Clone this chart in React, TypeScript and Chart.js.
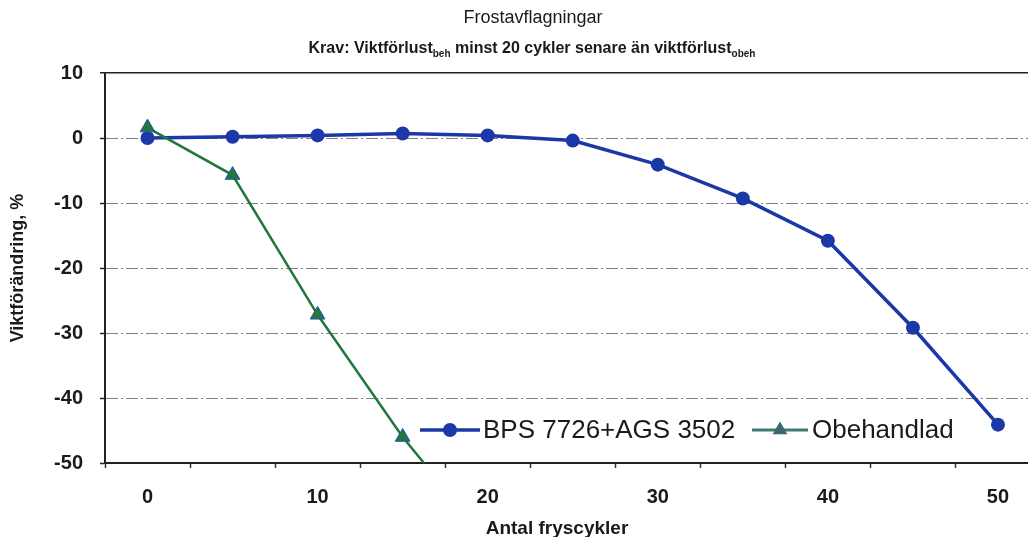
import { useEffect, useRef } from 'react';
import { Chart, registerables } from 'chart.js';

Chart.register(...registerables);

// ---- data ----
const cycles = ['0', '5', '10', '15', '20', '25', '30', '35', '40', '45', '50'];
const bpsValues = [0, 0.2, 0.4, 0.7, 0.4, -0.4, -4.1, -9.3, -15.8, -29.2, -44.1];
const obehandladValues = [1.6, -5.7, -27.2, -46.0, -62.0];
const yTicks = [-50, -40, -30, -20, -10, 0, 10];
const seriesNames = ['BPS 7726+AGS 3502', 'Obehandlad'];
const titleText = 'Frostavflagningar';
const subtitleParts: [string, boolean][] = [
  ['Krav: Viktförlust', false],
  ['beh', true],
  [' minst 20 cykler senare än viktförlust', false],
  ['obeh', true],
];
const xTitle = 'Antal fryscykler';
const yTitle = 'Viktförändring, %';

// ---- style ----
const FONT = '"Liberation Sans", Arial, Helvetica, sans-serif';
const TEXT = '#1a1a1a';
const BLUE = '#1c38a8';
const GREEN = '#22783c';
const LEGEND_GREEN_LINE = '#3f7a72';
const LEGEND_GREEN_MARK = '#3a6670';
const W = 1050;
const H = 537;

const titlePlugin = {
  id: 'titles',
  afterDraw(chart: any) {
    const { ctx, chartArea: a } = chart;
    ctx.save();
    ctx.fillStyle = TEXT;
    ctx.textBaseline = 'alphabetic';
    ctx.textAlign = 'center';
    ctx.font = `18px ${FONT}`;
    const cx = a.left + 428;
    ctx.fillText(titleText, cx, 23);

    const mainFont = `bold 16px ${FONT}`;
    const subFont = `bold 10px ${FONT}`;
    let total = 0;
    for (const [t, sub] of subtitleParts) {
      ctx.font = sub ? subFont : mainFont;
      total += ctx.measureText(t).width;
    }
    let x = a.left + 427 - total / 2;
    ctx.textAlign = 'left';
    for (const [t, sub] of subtitleParts) {
      ctx.font = sub ? subFont : mainFont;
      ctx.fillText(t, x, sub ? 57 : 53);
      x += ctx.measureText(t).width;
    }

    // x axis title
    ctx.textAlign = 'center';
    ctx.textBaseline = 'middle';
    ctx.font = `bold 19px ${FONT}`;
    ctx.fillText(xTitle, a.left + 452, a.bottom + 66);
    ctx.restore();
  },
};

const legendPlugin = {
  id: 'insideLegend',
  afterDatasetsDraw(chart: any) {
    const { ctx, chartArea: a } = chart;
    const y = a.bottom - 33;
    ctx.save();
    ctx.lineCap = 'butt';
    // item 1
    ctx.strokeStyle = BLUE;
    ctx.lineWidth = 3.5;
    ctx.beginPath();
    ctx.moveTo(a.left + 315, y);
    ctx.lineTo(a.left + 375, y);
    ctx.stroke();
    ctx.fillStyle = BLUE;
    ctx.beginPath();
    ctx.arc(a.left + 345, y, 7, 0, Math.PI * 2);
    ctx.fill();
    ctx.fillStyle = TEXT;
    ctx.font = `26px ${FONT}`;
    ctx.textBaseline = 'middle';
    ctx.textAlign = 'left';
    ctx.fillText(seriesNames[0], a.left + 378, y + 1);
    // item 2
    ctx.strokeStyle = LEGEND_GREEN_LINE;
    ctx.lineWidth = 3;
    ctx.beginPath();
    ctx.moveTo(a.left + 647, y);
    ctx.lineTo(a.left + 703, y);
    ctx.stroke();
    const tx = a.left + 675;
    const r = 8.5;
    ctx.fillStyle = LEGEND_GREEN_MARK;
    ctx.beginPath();
    ctx.moveTo(tx, y - r);
    ctx.lineTo(tx + r * 0.866, y + r / 2);
    ctx.lineTo(tx - r * 0.866, y + r / 2);
    ctx.closePath();
    ctx.fill();
    ctx.fillStyle = TEXT;
    ctx.fillText(seriesNames[1], a.left + 707, y + 1);
    ctx.restore();
  },
};

export default function App() {
  const ref = useRef<HTMLCanvasElement>(null);

  useEffect(() => {
    const canvas = ref.current;
    if (!canvas) return;
    const chart = new Chart(canvas, {
      type: 'line',
      data: {
        labels: cycles,
        datasets: [
          {
            label: seriesNames[0],
            data: bpsValues,
            borderColor: BLUE,
            backgroundColor: BLUE,
            borderWidth: 3.5,
            pointStyle: 'circle',
            pointRadius: 7,
            pointBackgroundColor: BLUE,
            pointBorderColor: BLUE,
            pointBorderWidth: 0,
            tension: 0,
            order: 1,
          },
          {
            label: seriesNames[1],
            data: obehandladValues,
            borderColor: GREEN,
            backgroundColor: GREEN,
            borderWidth: 2.5,
            pointStyle: 'triangle',
            pointRadius: 8.5,
            pointBackgroundColor: GREEN,
            pointBorderColor: '#2b4fb0',
            pointBorderWidth: 1,
            tension: 0,
            order: 0,
          },
        ],
      },
      options: {
        responsive: false,
        animation: false,
        devicePixelRatio: 1,
        layout: { padding: { top: 73, right: 0, left: 0, bottom: 0 } },
        plugins: {
          legend: { display: false },
          title: { display: false },
          tooltip: { enabled: false },
        },
        scales: {
          x: {
            type: 'category',
            offset: true,
            grid: {
              drawOnChartArea: false,
              offset: true,
              tickLength: 5,
              tickColor: '#333',
              tickWidth: 1.5,
            },
            border: { display: true, color: '#222', width: 2 },
            ticks: {
              autoSkip: false,
              maxRotation: 0,
              minRotation: 0,
              padding: 17,
              color: TEXT,
              font: { family: FONT, size: 20, weight: 'bold' },
              callback: (_v: any, i: number) => (i % 2 === 0 ? cycles[i] : ''),
            },
            title: { display: false },
            afterFit: (s: any) => {
              s.height = 74;
            },
          },
          y: {
            type: 'linear',
            min: -50,
            max: 10,
            afterBuildTicks: (s: any) => {
              s.ticks = yTicks.map((v) => ({ value: v }));
            },
            grid: {
              color: (c: any) =>
                c.tick && c.tick.value === 10 ? '#222' : c.tick && c.tick.value === -50 ? 'rgba(0,0,0,0)' : '#808080',
              lineWidth: (c: any) => (c.tick && c.tick.value === 10 ? 1.5 : 1),
              tickLength: 5,
              tickColor: '#222',
              tickWidth: 1.5,
            },
            border: {
              display: true,
              color: '#222',
              width: 2,
              dash: (c: any) => (c.tick && c.tick.value !== 10 ? [12, 3, 2, 3] : []),
            },
            ticks: {
              padding: 17,
              color: TEXT,
              font: { family: FONT, size: 20, weight: 'bold' },
            },
            title: {
              display: true,
              text: yTitle,
              color: TEXT,
              font: { family: FONT, size: 18, weight: 'bold' },
              padding: { top: 7, bottom: 0 },
            },
            afterFit: (s: any) => {
              s.width = 105;
            },
          },
        },
      },
      plugins: [titlePlugin, legendPlugin],
    } as any);
    return () => chart.destroy();
  }, []);

  return (
    <>
      <style>{'html,body{margin:0;padding:0;overflow:hidden;background:#fff}'}</style>
      <div style={{ width: W, height: H, overflow: 'hidden' }}>
        <canvas ref={ref} width={W} height={H} style={{ display: 'block', width: W, height: H }} />
      </div>
    </>
  );
}
